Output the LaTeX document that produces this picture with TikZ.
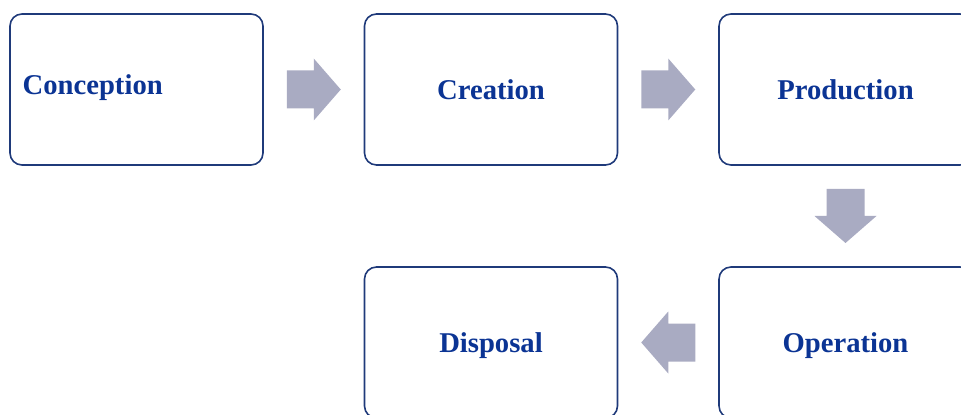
\documentclass[tikz,border=0pt]{standalone}
\usepackage{fontspec}
\setmainfont{Liberation Serif}
\usetikzlibrary{calc}

\definecolor{boxline}{HTML}{1F3A7A}
\definecolor{boxtext}{HTML}{0B3494}
\definecolor{arrowgrey}{HTML}{A9ABC2}

\tikzset{
  stagebox/.style={draw=boxline, line width=0.9pt, rounded corners=0.24cm,
    minimum width=5.06cm, minimum height=3.02cm, fill=white},
  stagetext/.style={text=boxtext, font=\fontsize{16.3}{19}\selectfont\bfseries,
    text depth=0pt},
  flowarrow/.style={fill=arrowgrey}
}

% block arrow pointing along the given angle
\newcommand{\blockarrow}[2]{%
  \begin{scope}[shift={(#1)}, rotate=#2]
    \fill[flowarrow] (-0.54,-0.38) -- (0,-0.38) -- (0,-0.62) -- (0.54,0)
      -- (0,0.62) -- (0,0.38) -- (-0.54,0.38) -- cycle;
  \end{scope}}

\begin{document}
\begin{tikzpicture}
    \useasboundingbox (0,0) rectangle (19.22,8.28);
    \clip (0,0) rectangle (19.22,8.28);

    % stages
    \node[stagebox] (conc) at (2.73,6.49) {};
    \node[stagetext, anchor=west] (conclabel) at (0.33,6.58) {Conception};
    \node[stagebox, stagetext] (crea) at (9.82,6.49) {Creation};
    \node[stagebox, stagetext] (prod) at (16.91,6.49) {Production};
    \node[stagebox, stagetext] (oper) at (16.91,1.43) {Operation};
    \node[stagebox, stagetext] (disp) at (9.82,1.43) {Disposal};

    % arrows between stages
    \coordinate (m1) at ($(conc.east)!0.5!(crea.west)$);
    \coordinate (m2) at ($(crea.east)!0.5!(prod.west)$);
    \coordinate (m3) at ($(prod.south)!0.5!(oper.north)$);
    \coordinate (m4) at ($(oper.west)!0.5!(disp.east)$);
    \blockarrow{m1}{0}
    \blockarrow{m2}{0}
    \blockarrow{m3}{-90}
    \blockarrow{m4}{180}
\end{tikzpicture}
\end{document}
